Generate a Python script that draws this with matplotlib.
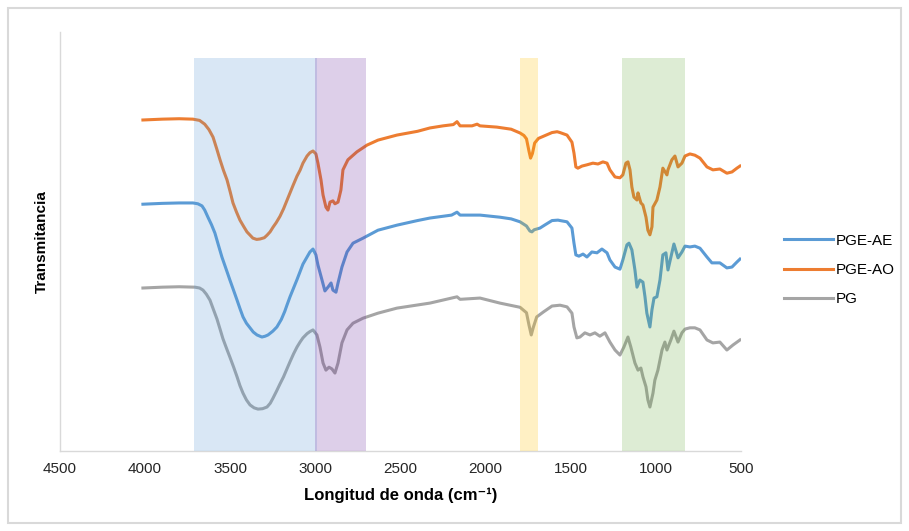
import matplotlib
matplotlib.use("Agg")
import matplotlib.pyplot as plt
from matplotlib.patches import Rectangle

plt.rcParams["font.family"] = ["Liberation Sans", "DejaVu Sans"]

# Spectra (wavenumber in cm-1, transmittance in arbitrary units, curves offset)
wn_ao = [4013, 3900, 3800, 3719, 3680, 3650, 3625, 3601, 3580, 3560, 3540, 3519, 3500, 3484,
         3463, 3443, 3420, 3402, 3367, 3345, 3325, 3300, 3284, 3266, 3249, 3230, 3208, 3187,
         3167, 3149, 3132, 3108, 3090, 3073, 3049, 3032, 3014, 2997, 2985, 2967, 2955, 2938,
         2926, 2914, 2897, 2885, 2867, 2850, 2838, 2809, 2756, 2697, 2632, 2521, 2400, 2327,
         2250, 2190, 2168, 2150, 2080, 2050, 2033, 1934, 1850, 1798, 1775, 1760, 1745, 1736,
         1725, 1712, 1690, 1650, 1610, 1580, 1563, 1522, 1493, 1481, 1470, 1458, 1434, 1405,
         1370, 1340, 1311, 1287, 1270, 1240, 1211, 1194, 1176, 1164, 1152, 1141, 1129, 1111,
         1105, 1088, 1076, 1058, 1047, 1035, 1023, 1017, 994, 976, 959, 935, 929, 906, 888,
         870, 847, 829, 800, 771, 741, 700, 665, 624, 583, 553, 524, 506]
t_ao = [79.0, 79.2, 79.3, 79.2, 78.9, 78.0, 76.7, 74.9, 72.2, 69.5, 67.0, 64.7, 61.8, 59.2,
        57.0, 55.1, 53.5, 52.3, 50.8, 50.5, 50.6, 50.9, 51.5, 52.3, 53.4, 54.5, 56.0, 57.8,
        59.8, 61.6, 63.3, 65.6, 67.0, 68.7, 70.4, 71.2, 71.6, 70.9, 68.7, 64.7, 61.1, 58.2,
        57.5, 59.4, 59.7, 59.0, 59.4, 62.3, 67.1, 69.5, 71.4, 73.0, 74.2, 75.4, 76.3, 77.1,
        77.6, 77.9, 78.6, 77.6, 77.6, 78.0, 77.6, 77.3, 76.8, 75.9, 75.3, 74.5, 71.5, 69.9,
        71.0, 73.5, 74.6, 75.3, 76.0, 76.2, 76.0, 75.4, 73.7, 71.1, 67.8, 67.5, 68.0, 68.3,
        68.7, 68.5, 69.0, 68.7, 67.1, 65.4, 65.2, 65.9, 68.7, 69.0, 67.1, 63.0, 60.6, 59.9,
        61.6, 59.2, 58.7, 55.8, 52.7, 51.6, 53.5, 58.2, 59.9, 63.0, 67.5, 65.9, 67.1, 69.5,
        70.4, 67.8, 68.7, 70.4, 70.9, 70.6, 69.9, 67.8, 67.1, 67.3, 66.3, 66.6, 67.5, 68.0]

wn_ae = [4013, 3900, 3800, 3719, 3690, 3666, 3650, 3631, 3610, 3590, 3570, 3549, 3525, 3502,
         3480, 3460, 3443, 3425, 3405, 3384, 3365, 3343, 3314, 3295, 3278, 3250, 3226, 3200,
         3180, 3167, 3149, 3128, 3108, 3090, 3073, 3049, 3032, 3014, 2997, 2985, 2961, 2944,
         2926, 2908, 2897, 2879, 2867, 2844, 2814, 2779, 2720, 2632, 2521, 2400, 2327, 2200,
         2168, 2150, 2033, 1916, 1850, 1798, 1760, 1740, 1728, 1715, 1681, 1650, 1610, 1575,
         1563, 1522, 1493, 1481, 1470, 1452, 1428, 1405, 1376, 1346, 1317, 1287, 1270, 1240,
         1211, 1194, 1170, 1158, 1141, 1123, 1111, 1094, 1076, 1064, 1053, 1035, 1023, 1011,
         994, 976, 959, 941, 929, 906, 894, 870, 847, 829, 800, 771, 741, 700, 671, 624, 583,
         553, 524, 506]
t_ae = [58.9, 59.1, 59.2, 59.2, 59.0, 58.5, 57.5, 55.8, 54.0, 52.0, 49.2, 46.3, 43.5, 40.8,
        38.3, 36.0, 34.0, 32.0, 30.5, 29.4, 28.4, 27.7, 27.2, 27.4, 27.7, 28.6, 29.6, 31.4,
        33.3, 34.8, 36.8, 38.9, 40.9, 42.8, 44.6, 46.3, 47.5, 48.2, 46.8, 44.4, 40.8, 38.2,
        39.1, 40.1, 38.4, 37.9, 40.1, 43.9, 47.5, 49.6, 50.8, 52.7, 53.9, 55.0, 55.6, 56.3,
        57.0, 56.3, 56.3, 55.8, 55.4, 54.7, 53.7, 52.5, 52.3, 52.8, 53.2, 54.0, 55.0, 55.1,
        55.0, 54.7, 53.2, 49.6, 46.8, 46.5, 47.0, 46.3, 47.5, 47.3, 48.2, 47.3, 45.6, 43.9,
        43.4, 45.6, 49.2, 49.6, 48.0, 43.2, 39.1, 40.8, 40.3, 36.8, 32.9, 29.6, 33.7, 36.5,
        36.8, 40.8, 46.8, 47.3, 43.2, 47.3, 49.4, 46.1, 47.5, 48.9, 48.7, 48.9, 48.4, 46.3,
        44.9, 44.9, 43.7, 43.9, 45.1, 45.8]

wn_pg = [4013, 3900, 3800, 3707, 3680, 3660, 3640, 3619, 3600, 3578, 3560, 3543, 3520, 3502,
         3480, 3460, 3443, 3425, 3405, 3384, 3360, 3337, 3310, 3284, 3265, 3249, 3228, 3208,
         3187, 3167, 3149, 3128, 3108, 3090, 3073, 3049, 3032, 3014, 2991, 2973, 2955, 2938,
         2920, 2903, 2885, 2867, 2844, 2814, 2779, 2720, 2632, 2521, 2327, 2168, 2150, 2033,
         1916, 1798, 1760, 1745, 1732, 1720, 1700, 1660, 1610, 1563, 1522, 1493, 1481, 1464,
         1446, 1417, 1387, 1358, 1329, 1299, 1270, 1240, 1211, 1188, 1164, 1147, 1123, 1105,
         1088, 1076, 1058, 1047, 1035, 1017, 1006, 988, 964, 947, 935, 912, 894, 870, 847, 829,
         800, 771, 741, 700, 665, 624, 583, 547, 506]
t_pg = [38.9, 39.1, 39.2, 39.1, 38.9, 38.4, 37.4, 36.0, 33.9, 31.5, 29.1, 26.8, 24.3, 22.4,
        20.0, 17.7, 15.6, 13.8, 12.2, 11.0, 10.3, 10.0, 10.1, 10.5, 11.4, 12.6, 14.3, 16.0,
        17.7, 19.6, 21.3, 23.2, 24.8, 26.0, 27.0, 28.0, 28.5, 28.9, 27.7, 24.8, 21.0, 19.3,
        20.0, 19.6, 18.6, 21.0, 25.8, 28.9, 30.5, 31.7, 32.9, 34.1, 35.3, 36.8, 36.2, 36.5,
        35.3, 34.3, 33.0, 30.0, 27.7, 29.5, 32.0, 33.2, 34.6, 34.8, 34.4, 32.9, 29.6, 27.0,
        27.2, 28.2, 27.7, 28.2, 27.4, 28.2, 26.0, 24.1, 22.9, 24.8, 27.2, 24.8, 21.0, 19.3,
        19.8, 17.7, 15.3, 12.2, 10.5, 13.8, 16.9, 19.3, 24.1, 26.0, 24.1, 26.5, 28.6, 26.0,
        28.2, 29.1, 29.4, 29.4, 28.9, 26.5, 25.8, 26.0, 24.1, 25.3, 26.5]

# Highlighted regions (cm-1)
band_starts = [3715, 3005, 1800, 1200]
band_ends = [2990, 2700, 1690, 830]
band_colors = ["#5B9BD5", "#7030A0", "#FFC000", "#70AD47"]

fig = plt.figure(figsize=(9.09, 5.31), dpi=100)
ax = fig.add_axes([60 / 909, 80 / 531, 681 / 909, 419 / 531])

ax.plot(wn_ae, t_ae, color="#5B9BD5", lw=2.2, label="PGE-AE")
ax.plot(wn_ao, t_ao, color="#ED7D31", lw=2.2, label="PGE-AO")
ax.plot(wn_pg, t_pg, color="#A5A5A5", lw=2.2, label="PG")

for s, e, c in zip(band_starts, band_ends, band_colors):
    ax.axvspan(s, e, ymin=0, ymax=0.938, color=c, alpha=0.23, lw=0, zorder=3)

ax.set_xlim(4500, 500)
ax.set_ylim(0, 100)
ax.set_xticks(range(4500, 499, -500))
ax.set_yticks([])
ax.tick_params(axis="x", length=0, labelsize=11, colors="#262626", pad=8)

for side in ["top", "right"]:
    ax.spines[side].set_visible(False)
for side in ["left", "bottom"]:
    ax.spines[side].set_color("#D9D9D9")
    ax.spines[side].set_linewidth(1)

ax.set_xlabel("Longitud de onda (cm\u207b\u00b9)", fontsize=12, fontweight="bold", labelpad=8)
ax.set_ylabel("Transmitancia", fontsize=11, fontweight="bold", labelpad=8)

fig.legend(loc="center left", bbox_to_anchor=(770 / 909, 1 - 270 / 531), frameon=False,
           fontsize=11, handlelength=3.2, labelspacing=1.0, handletextpad=0.2)

fig.patches.append(Rectangle((8 / 909, 8 / 531), 893 / 909, 515 / 531, transform=fig.transFigure,
                             fill=False, edgecolor="#D9D9D9", lw=1.5))

plt.savefig("out.png", dpi=100)
